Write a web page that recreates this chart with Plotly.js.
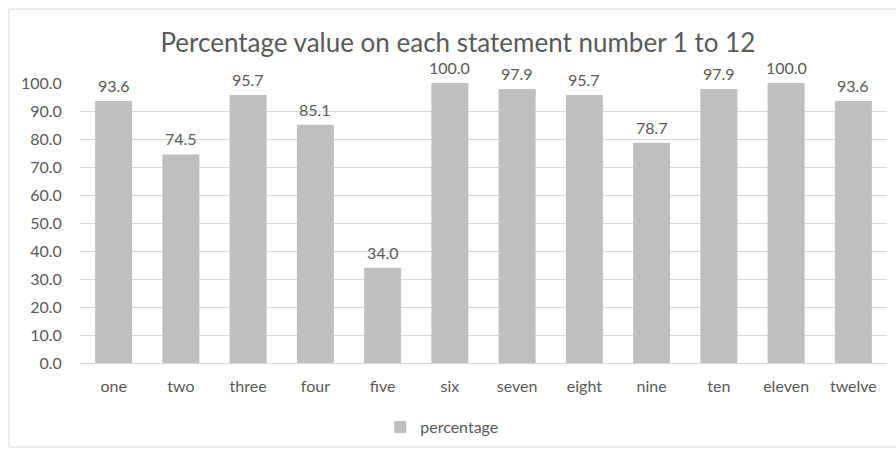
<!DOCTYPE html>
<html>
<head>
<meta charset="utf-8">
<script src="https://cdn.plot.ly/plotly-3.0.1.min.js"></script>
<style>html,body{margin:0;padding:0;background:#fff;}#chart{width:896px;height:449px;}</style>
</head>
<body>
<div id="chart"></div>
<script>
var categories = ["one","two","three","four","five","six","seven","eight","nine","ten","eleven","twelve"];
var percentage = [93.6, 74.5, 95.7, 85.1, 34.0, 100.0, 97.9, 95.7, 78.7, 97.9, 100.0, 93.6];
var yTicks = [0,10,20,30,40,50,60,70,80,90,100];
var seriesName = "percentage";
var chartTitle = "Percentage value on each statement number 1 to 12";

var txt = "#595959";
var trace = {
  type: "bar",
  x: categories,
  y: percentage,
  name: seriesName,
  marker: {color: "#bfbfbf"},
  cliponaxis: false,
  showlegend: true,
  hoverinfo: "x+y"
};

var labels = categories.map(function(c, i){
  return {x: c, y: percentage[i], xref: "x", yref: "y", text: percentage[i].toFixed(1),
          showarrow: false, yanchor: "bottom", yshift: 4,
          font: {family: "Lato, sans-serif", size: 16, color: txt}};
});

var layout = {
  width: 896, height: 449,
  margin: {l: 80, r: 9, t: 83, b: 86},
  paper_bgcolor: "#fff", plot_bgcolor: "#fff",
  font: {family: "Lato, sans-serif", size: 16, color: txt},
  title: {text: chartTitle, font: {family: "Lato, sans-serif", size: 26, color: txt},
          x: 0.511, xanchor: "center", y: 0.905, yanchor: "middle"},
  bargap: 0.45,
  xaxis: {type: "category", showgrid: false, showline: true, linecolor: "#d9d9d9", linewidth: 1,
          ticks: "outside", ticklen: 9, tickcolor: "rgba(0,0,0,0)",
          tickfont: {size: 16, color: txt}, zeroline: false, automargin: false},
  yaxis: {range: [0, 100], tickvals: yTicks, tickformat: ".1f", showgrid: true, gridcolor: "#d9d9d9",
          gridwidth: 1, zeroline: false, showline: false, ticks: "outside", ticklen: 14,
          tickcolor: "rgba(0,0,0,0)", tickfont: {size: 16, color: txt}, automargin: false},
  annotations: labels,
  showlegend: true,
  legend: {orientation: "h", xref: "container", yref: "container", x: 0.493, xanchor: "center",
           y: 0.049, yanchor: "middle", font: {size: 16, color: txt}, itemwidth: 30},
  shapes: [{type: "rect", xref: "paper", yref: "paper", x0: -0.088, x1: 1.03, y0: -0.3, y1: 1.264,
            line: {color: "#d9d9d9", width: 1}, fillcolor: "rgba(0,0,0,0)", layer: "below"}]
};

Plotly.newPlot("chart", [trace], layout, {displayModeBar: false, staticPlot: true});
</script>
</body>
</html>
